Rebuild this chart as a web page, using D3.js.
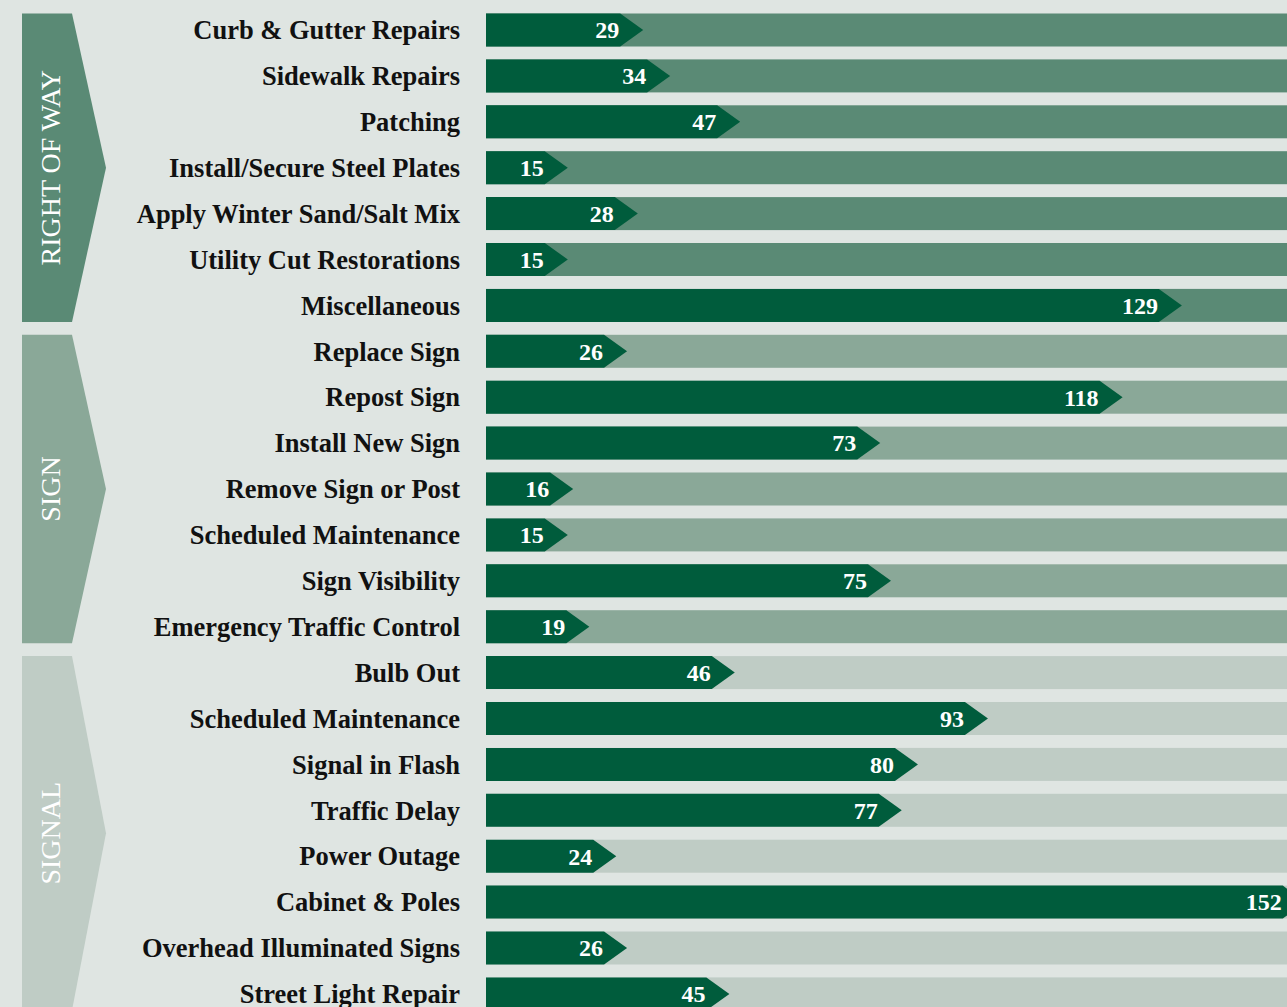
<!DOCTYPE html>
<html>
<head>
<meta charset="utf-8">
<script src="https://cdn.jsdelivr.net/npm/d3@7"></script>
<style>
  html, body { margin: 0; padding: 0; background: #dfe5e2; overflow: hidden; }
  svg { display: block; }
</style>
</head>
<body>
<svg class="work-chart"></svg>
<script>
// Work orders by category
var groups = ["RIGHT OF WAY", "SIGN", "SIGNAL"];
var groupCounts = [7, 7, 8];

var categories = [
  "Curb & Gutter Repairs", "Sidewalk Repairs", "Patching", "Install/Secure Steel Plates",
  "Apply Winter Sand/Salt Mix", "Utility Cut Restorations", "Miscellaneous",
  "Replace Sign", "Repost Sign", "Install New Sign", "Remove Sign or Post",
  "Scheduled Maintenance", "Sign Visibility", "Emergency Traffic Control",
  "Bulb Out", "Scheduled Maintenance", "Signal in Flash", "Traffic Delay",
  "Power Outage", "Cabinet & Poles", "Overhead Illuminated Signs", "Street Light Repair"
];
var values = [29, 34, 47, 15, 28, 15, 129, 26, 118, 73, 16, 15, 75, 19, 46, 93, 80, 77, 24, 152, 26, 45];

var groupColors = ["#5a8a75", "#8aa898", "#bfccc5"];
var barColor = "#005c3c";

var svgWidth = 1287, svgHeight = 1007;
var tipLen = 23;

var svg = d3.select(".work-chart")
  .attr("width", svgWidth)
  .attr("height", svgHeight);

// which group each row belongs to
var rowGroup = [];
groupCounts.forEach(function (n, g) {
  for (var i = 0; i < n; i++) rowGroup.push(g);
});

var yScale = d3.scaleBand()
  .domain(d3.range(categories.length))
  .range([13.5, 1010.4])
  .paddingInner(0.281)
  .paddingOuter(0);

var xScale = d3.scaleLinear()
  .domain([0, 150])
  .range([487, 1295]);

// group chevron panels
var start = 0;
groups.forEach(function (name, g) {
  var first = start, last = start + groupCounts[g] - 1;
  start += groupCounts[g];
  var top = yScale(first), bottom = yScale(last) + yScale.bandwidth();
  var mid = (top + bottom) / 2;
  svg.append("path")
    .attr("d", "M22," + top + "L72," + top + "L106," + mid + "L72," + bottom + "L22," + bottom + "Z")
    .attr("fill", groupColors[g]);
  svg.append("text")
    .attr("transform", "translate(50," + mid + ") rotate(-90)")
    .attr("text-anchor", "middle")
    .attr("dy", "0.35em")
    .attr("fill", "#ffffff")
    .style("font-family", "'Liberation Serif', 'DejaVu Serif', serif")
    .style("font-size", "28px")
    .text(name);
});

var rows = svg.selectAll("g.row")
  .data(values)
  .enter()
  .append("g")
  .attr("class", "row")
  .attr("transform", function (d, i) {
    return "translate(0," + yScale(i) + ")";
  });

var h = yScale.bandwidth();

// background track
rows.append("rect")
  .attr("x", 486)
  .attr("y", 0)
  .attr("width", svgWidth - 486)
  .attr("height", h)
  .attr("fill", function (d, i) { return groupColors[rowGroup[i]]; });

// arrow bar
rows.append("path")
  .attr("d", function (d) {
    var tip = xScale(d), end = tip - tipLen;
    return "M486,0L" + end + ",0L" + tip + "," + (h / 2) + "L" + end + "," + h + "L486," + h + "Z";
  })
  .attr("fill", barColor);

// value labels
rows.append("text")
  .attr("x", function (d) { return xScale(d) - tipLen - 1; })
  .attr("y", h / 2)
  .attr("dy", "0.35em")
  .attr("text-anchor", "end")
  .attr("fill", "#ffffff")
  .style("font-family", "'Liberation Serif', 'DejaVu Serif', serif")
  .style("font-weight", "bold")
  .style("font-size", "24px")
  .text(function (d) { return d; });

// category labels
rows.append("text")
  .attr("x", 460)
  .attr("y", h / 2)
  .attr("dy", "0.35em")
  .attr("text-anchor", "end")
  .attr("fill", "#111111")
  .style("font-family", "'Liberation Serif', 'DejaVu Serif', serif")
  .style("font-weight", "bold")
  .style("font-size", "26.5px")
  .text(function (d, i) { return categories[i]; });
</script>
</body>
</html>
